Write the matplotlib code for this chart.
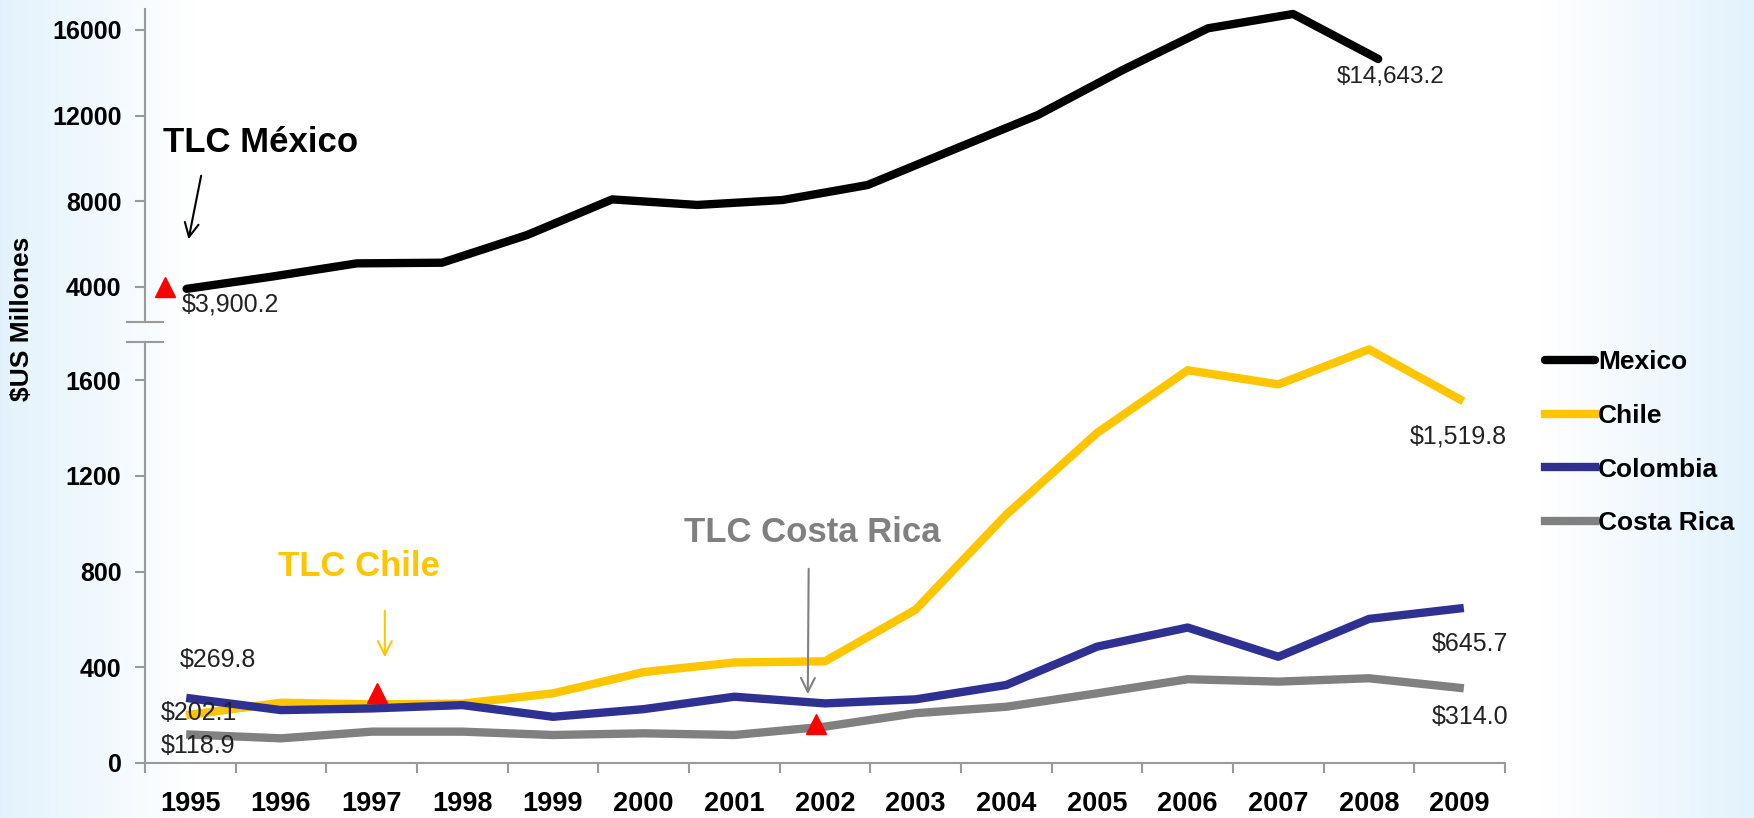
import matplotlib.pyplot as plt
import numpy as np

plt.rcParams['font.family'] = ['Liberation Sans', 'DejaVu Sans']

#---------------------------------------------------
# Data ($US millones)
#---------------------------------------------------
years = ['1995', '1996', '1997', '1998', '1999', '2000', '2001', '2002',
         '2003', '2004', '2005', '2006', '2007', '2008', '2009']
mexico = [3900.2, 4470, 5090, 5120, 6415, 8080, 7820, 8050, 8750, 10390,
          12020, 14130, 16075, 16745, 14643.2]
chile = [202.1, 252, 245, 248, 291, 380, 420, 425, 641, 1038, 1379, 1641,
         1582, 1728, 1519.8]
colombia = [269.8, 221, 228, 242, 193, 225, 277, 249, 266, 326, 486, 566,
            444, 602, 645.7]
costa_rica = [118.9, 103, 131, 131, 117, 124, 117, 152, 208, 235, 291, 350,
              340, 354, 314.0]

# TLC markers (red triangles): position in year index, value
tlc_mex = (-0.25, 4000)
tlc_low_x = [2.06, 6.9]
tlc_low_y = [291, 163]

c_mex = 'black'
c_chi = '#FFC600'
c_col = '#2E3192'
c_cr = '#808080'
axis_gray = '#9a9a9a'
lbl_color = '#222222'

W, H = 1754, 818
fig = plt.figure(figsize=(W / 100, H / 100), dpi=100)
fig.patch.set_facecolor('white')

# light blue fade on the edges
bg = fig.add_axes([0, 0, 1, 1], zorder=-1)
xs = np.linspace(0, 1, 600)
amt = np.maximum(np.clip(1 - xs / 0.11, 0, 1), np.clip((xs - 0.88) / 0.12, 0, 1))
white = np.array([1.0, 1.0, 1.0])
blue = np.array([0.89, 0.95, 0.99])
img = white[None, :] * (1 - amt[:, None]) + blue[None, :] * amt[:, None]
bg.imshow(img[None, :, :], aspect='auto', extent=[0, 1, 0, 1])
bg.axis('off')

left = 145 / W
width = 1360 / W
ax_top = fig.add_axes([left, (H - 322) / H, width, (322 - 9.3) / H])
ax_low = fig.add_axes([left, (H - 763) / H, width, (763 - 342) / H])

#---------------------------------------------------
# Upper part: Mexico
#---------------------------------------------------
xm = np.arange(len(years))
l_mex, = ax_top.plot(xm, mexico, color=c_mex, lw=6, solid_capstyle='round',
                     solid_joinstyle='round', label='Mexico')
ax_top.set_xlim(-0.489, 15.49)
ax_top.set_ylim(2350, 16963)
ax_top.set_yticks([4000, 8000, 12000, 16000])
ax_top.set_xticks([])
for s in ['top', 'right', 'bottom']:
    ax_top.spines[s].set_visible(False)
ax_top.spines['left'].set_color(axis_gray)
ax_top.spines['left'].set_linewidth(1.5)
ax_top.tick_params(axis='y', length=7, width=1.5, color=axis_gray, pad=10,
                   labelsize=18)
for t in ax_top.get_yticklabels():
    t.set_fontweight('bold')
ax_top.patch.set_alpha(0)

ax_top.plot([tlc_mex[0]], [tlc_mex[1]], marker='^', color='red', ms=15,
            ls='none')
ax_top.text(-0.058, 3145, '$3,900.2', fontsize=18, ha='left', va='center',
            color=lbl_color)
ax_top.text(14.15, 13813, '$14,643.2', fontsize=17.5, ha='center', va='center',
            color=lbl_color)
ax_top.text(-0.277, 10715, 'TLC México', fontsize=25, fontweight='bold',
            ha='left', va='center')
ax_top.annotate('', xy=(0.016, 6089), xytext=(0.177, 9313),
                arrowprops=dict(arrowstyle='->', color='black', lw=1.5,
                                mutation_scale=25))

# break marks
ax_top.plot([-18 / 1360, 18 / 1360], [0, 0], color=axis_gray, lw=1.5,
            transform=ax_top.transAxes, clip_on=False)

#---------------------------------------------------
# Lower part: Chile, Colombia, Costa Rica
#---------------------------------------------------
x = np.arange(len(years))
l_cr, = ax_low.plot(x, costa_rica, color=c_cr, lw=6, solid_joinstyle='round',
                    label='Costa Rica')
l_chi, = ax_low.plot(x, chile, color=c_chi, lw=6, solid_joinstyle='round',
                     label='Chile')
l_col, = ax_low.plot(x, colombia, color=c_col, lw=6, solid_joinstyle='round',
                     label='Colombia')
ax_low.set_xlim(-0.5, 14.5)
ax_low.set_ylim(0, 1759)
ax_low.set_yticks([0, 400, 800, 1200, 1600])
ax_low.set_xticks(x, labels=years)
ax_low.set_xticks(np.arange(-0.5, 15, 1), minor=True)
for s in ['top', 'right']:
    ax_low.spines[s].set_visible(False)
for s in ['left', 'bottom']:
    ax_low.spines[s].set_color(axis_gray)
    ax_low.spines[s].set_linewidth(1.5)
ax_low.tick_params(axis='y', length=7, width=1.5, color=axis_gray, pad=10,
                   labelsize=18)
ax_low.tick_params(axis='x', which='major', length=0, pad=20, labelsize=19.5)
ax_low.tick_params(axis='x', which='minor', length=7, width=1.5,
                   color=axis_gray)
for t in ax_low.get_yticklabels() + ax_low.get_xticklabels():
    t.set_fontweight('bold')
ax_low.patch.set_alpha(0)
ax_low.plot([-18 / 1360, 18 / 1360], [1, 1], color=axis_gray, lw=1.5,
            transform=ax_low.transAxes, clip_on=False)

ax_low.plot(tlc_low_x, tlc_low_y, marker='^', color='red', ms=15, ls='none',
            zorder=5)

ax_low.text(0.30, 430, '$269.8', fontsize=18, ha='center', va='center', color=lbl_color)
ax_low.text(0.10, 208, '$202.1', fontsize=18, ha='center', va='center', color=lbl_color)
ax_low.text(0.09, 72, '$118.9', fontsize=18, ha='center', va='center', color=lbl_color)
ax_low.text(13.99, 1365, '$1,519.8', fontsize=18, ha='center', va='center', color=lbl_color)
ax_low.text(14.11, 497, '$645.7', fontsize=18, ha='center', va='center', color=lbl_color)
ax_low.text(14.11, 193, '$314.0', fontsize=18, ha='center', va='center', color=lbl_color)

ax_low.text(0.965, 819, 'TLC Chile', fontsize=25, fontweight='bold',
            color=c_chi, ha='left', va='center')
ax_low.annotate('', xy=(2.145, 430), xytext=(2.145, 648),
                arrowprops=dict(arrowstyle='->', color=c_chi, lw=1.5,
                                mutation_scale=25))
ax_low.text(5.45, 961, 'TLC Costa Rica', fontsize=25, fontweight='bold',
            color=c_cr, ha='left', va='center')
ax_low.annotate('', xy=(6.81, 276), xytext=(6.82, 823),
                arrowprops=dict(arrowstyle='->', color=c_cr, lw=1.5,
                                mutation_scale=25))

fig.text(22 / W, (H - 319) / H, '$US Millones', rotation=90, fontsize=19,
         fontweight='bold', ha='center', va='center')

fig.legend(handles=[l_mex, l_chi, l_col, l_cr],
           labels=['Mexico', 'Chile', 'Colombia', 'Costa Rica'],
           loc='upper left', bbox_to_anchor=(1545 / W, (H - 350) / H),
           frameon=False, prop={'weight': 'bold', 'size': 19},
           handlelength=1.9, handletextpad=0.1, labelspacing=1.13,
           borderpad=0, borderaxespad=0)

plt.savefig('out.png', dpi=100)
